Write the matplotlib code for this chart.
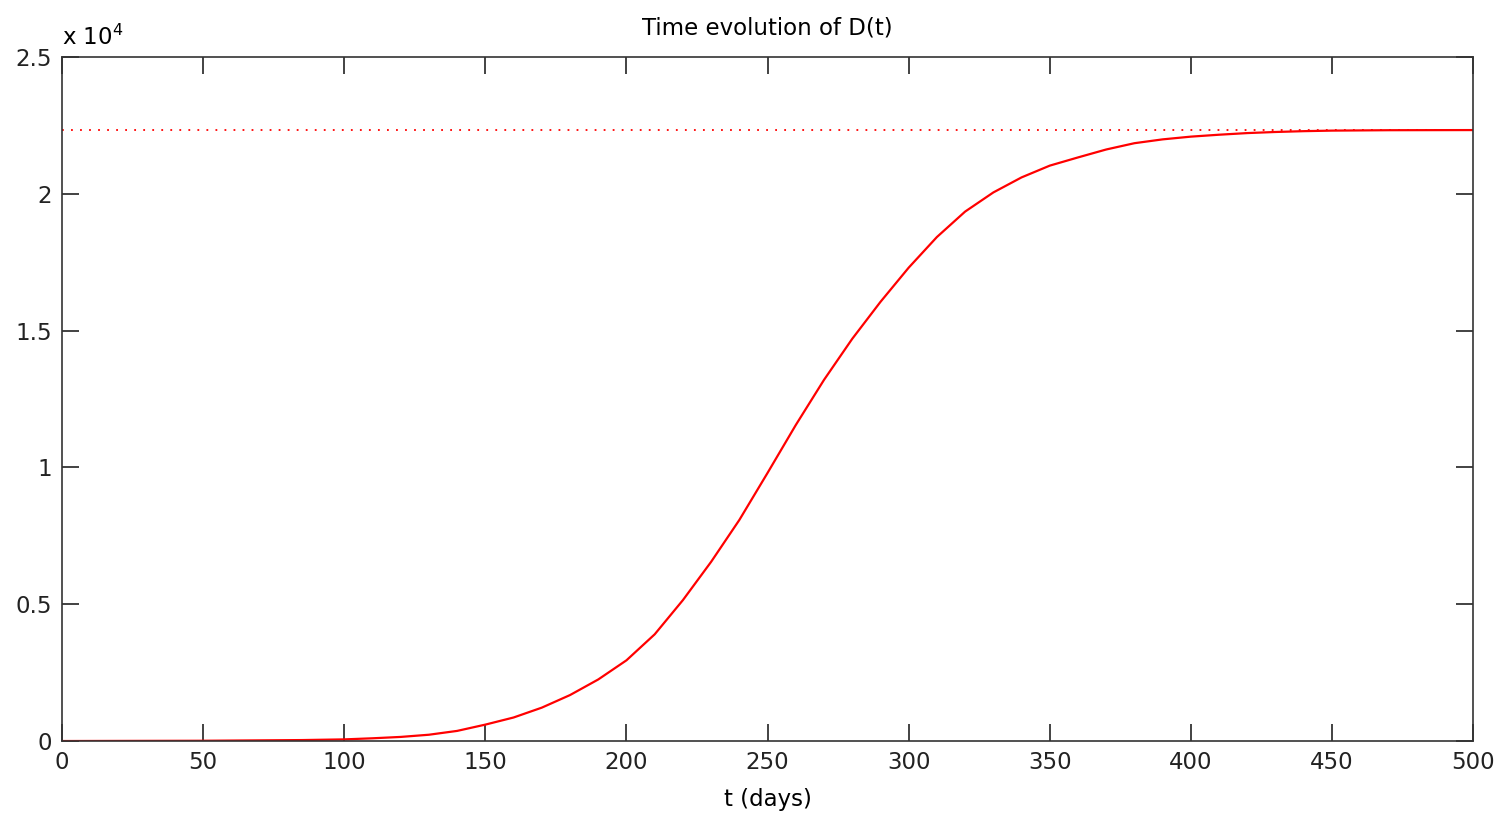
import numpy as np
import matplotlib
matplotlib.use("Agg")
import matplotlib.pyplot as plt
from matplotlib.ticker import FuncFormatter

# D(t)
t_days = [0, 50, 85, 100, 110, 120, 130, 140, 150, 160, 170, 180, 190, 200,
          210, 220, 230, 240, 250, 260, 270, 280, 290, 300, 310, 320, 330,
          340, 350, 360, 370, 380, 390, 400, 410, 420, 430, 440, 450, 470, 500]
d_vals = [0, 10, 35, 60, 100, 150, 230, 370, 600, 860, 1220, 1680, 2250, 2950,
          3900, 5150, 6550, 8080, 9800, 11550, 13200, 14700, 16050, 17300,
          18420, 19350, 20050, 20600, 21030, 21330, 21620, 21850, 21990, 22090,
          22160, 22220, 22260, 22290, 22310, 22325, 22330]
d_limit = 22330  # asymptote (dotted line)

x_ticks = [0, 50, 100, 150, 200, 250, 300, 350, 400, 450, 500]
y_ticks = [0, 5000, 10000, 15000, 20000, 25000]

plt.rcParams['font.family'] = ['DejaVu Sans']

fig = plt.figure(figsize=(14.99, 8.18), dpi=100)
ax = fig.add_axes([0.0414, 0.0941, 0.9413, 0.8362])

ax.plot(t_days, d_vals, color="red", lw=1.6)
ax.plot([0, 500], [d_limit, d_limit], color="red", lw=1.3, ls=(0, (1, 4)))

ax.set_xlim(0, 500)
ax.set_ylim(0, 25000)
ax.set_xticks(x_ticks)
ax.set_yticks(y_ticks)
ax.yaxis.set_major_formatter(FuncFormatter(lambda v, p: "%g" % (v / 1e4)))

ax.tick_params(direction="in", length=12, width=1.2, top=True, right=True,
               labelsize=16.5, pad=7, colors="#222222")
for s in ax.spines.values():
    s.set_linewidth(1.2)
    s.set_color("#333333")

ax.set_title("Time evolution of D(t)", fontsize=16.5, pad=16)
ax.set_xlabel("t (days)", fontsize=16.5, labelpad=10)
ax.text(0.0, 1.01, "x 10$^{4}$", transform=ax.transAxes, fontsize=16.5,
        ha="left", va="bottom")

fig.savefig("out.png", dpi=100)
plt.close(fig)
